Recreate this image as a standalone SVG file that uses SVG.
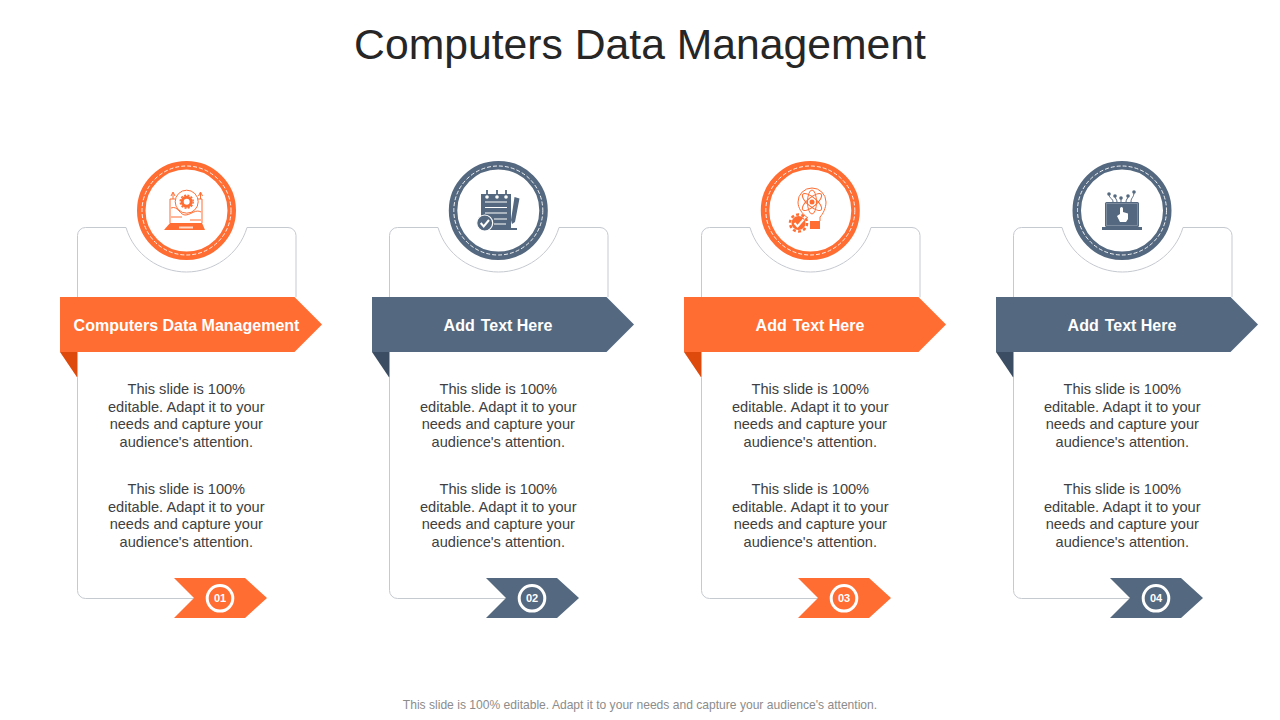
<svg xmlns="http://www.w3.org/2000/svg" width="1280" height="720" viewBox="0 0 1280 720">
<style>
text{font-family:"Liberation Sans",Arial,sans-serif}
.title{font-size:42.7px;fill:#262626;text-anchor:middle}
.foot{font-size:12.08px;fill:#8c8c8c;text-anchor:middle}
.body{font-size:14.6px;fill:#404040;text-anchor:middle}
.head{font-size:16px;font-weight:bold;fill:#fff;text-anchor:middle}
.num{font-size:11px;font-weight:bold;fill:#fff;text-anchor:middle}
.card{fill:none;stroke:#c5c9d0;stroke-width:1}
.o{fill:#ff6d33}.od{fill:#dd4a0c}.b{fill:#54687f}.bd{fill:#3b4d63}
.ros{stroke:#ff6d33}.bls{stroke:#54687f}
.ring{fill:#fff;stroke-width:8.500}
.dash{fill:none;stroke:#fff;stroke-width:0.900;stroke-dasharray:4 2}
.numring{fill:none;stroke:#fff;stroke-width:3}
.il{fill:none;stroke-width:1}
</style>
<defs>
<g id="frame">
<path class="card" d="M77.500 297V235.500a8 8 0 0 1 8-8H126C134 255 160 272 186.500 272S239 255 247 227.500H288a8 8 0 0 1 8 8V297"/>
<path class="card" d="M77.500 378V590.500a8 8 0 0 0 8 8H194"/>
</g>
<g id="copy" class="body">
<text x="186.300" y="394">This slide is 100%</text>
<text x="186.300" y="412">editable. Adapt it to your</text>
<text x="186.300" y="429">needs and capture your</text>
<text x="186.300" y="447">audience's attention.</text>
<text x="186.300" y="494">This slide is 100%</text>
<text x="186.300" y="512">editable. Adapt it to your</text>
<text x="186.300" y="529">needs and capture your</text>
<text x="186.300" y="547">audience's attention.</text>
</g>
<path id="rib" d="M60 297H294.500L322 324.500L294.500 352H60Z"/>
<path id="fold" d="M60 352H77.500V378Z"/>
<path id="tag" d="M174 578H245L267 598L245 618H174L194 598Z"/>
</defs>

<text class="title" x="640" y="58.500">Computers Data Management</text>

<g id="connectors"></g>

<g id="node-1">
<use href="#frame"/><use href="#rib" class="o"/><use href="#fold" class="od"/>
<text class="head" x="186.500" y="330.500">Computers Data Management</text>
<use href="#copy"/>
<circle class="ring ros" cx="186.500" cy="210.500" r="45.250"/>
<circle class="dash" cx="186.500" cy="210.500" r="44.500"/>
<g class="il ros">
<path d="M170 223V199H175M198 199H202V223"/>
<path d="M171 208C178 205 180 216 186 215S196 209 201 212M171 217H182M190 220H201"/>
<path d="M173 199V193M171 196L173 192L175 196M200.500 199V193M198.500 196L200.500 192L202.500 196"/>
<circle cx="186.700" cy="201.700" r="11.500"/>
</g>
<circle cx="186.700" cy="201.700" r="4.500" fill="none" stroke="#ff6d33" stroke-width="3"/>
<circle cx="186.700" cy="201.700" r="6.500" fill="none" stroke="#ff6d33" stroke-width="1.500" stroke-dasharray="2 1.400"/>
<path class="o" d="M170 223H202L205 230H164Z"/>
<rect x="179" y="226.500" width="14" height="2" fill="#ffd9c9"/>
<use href="#tag" class="o"/>
<circle class="numring" cx="220" cy="598.300" r="12.800"/>
<text class="num" x="220" y="602">01</text>
</g>

<g id="node-2">
<use href="#frame" x="312"/><use href="#rib" x="312" class="b"/><use href="#fold" x="312" class="bd"/>
<text class="head" x="498" y="330.500">Add <tspan dx="1.500">Text Here</tspan></text>
<use href="#copy" x="312"/>
<circle class="ring bls" cx="498.300" cy="210.500" r="45.250"/>
<circle class="dash" cx="498.300" cy="210.500" r="44.500"/>
<rect class="b" x="481" y="194" width="30" height="36"/>
<path d="M485 202H507M485 207.500H507M485 213H507M494 219H507M494 224H506" stroke="#fff" stroke-width="1.200"/>
<path d="M487 190V197M497 190V197M506 190V197" stroke="#54687f" stroke-width="1.800"/>
<circle cx="487" cy="197" r="1.800" fill="#fff"/><circle cx="497" cy="197" r="1.800" fill="#fff"/><circle cx="506" cy="197" r="1.800" fill="#fff"/>
<path class="b" d="M514.500 197L519.500 198.500L515 222L512 224L511 220ZM511 228H517V230H511Z"/>
<circle cx="484.700" cy="223" r="8" fill="#54687f" stroke="#fff" stroke-width="1.200"/>
<path d="M480.700 223L483.700 226.500L489 220" fill="none" stroke="#fff" stroke-width="2"/>
<use href="#tag" x="312" class="b"/>
<circle class="numring" cx="532" cy="598.300" r="12.800"/>
<text class="num" x="532" y="602">02</text>
</g>

<g id="node-3">
<use href="#frame" x="624"/><use href="#rib" x="624" class="o"/><use href="#fold" x="624" class="od"/>
<text class="head" x="810" y="330.500">Add <tspan dx="1.500">Text Here</tspan></text>
<use href="#copy" x="624"/>
<circle class="ring ros" cx="810.300" cy="210.500" r="45.250"/>
<circle class="dash" cx="810.300" cy="210.500" r="44.500"/>
<g class="il ros" stroke-width="1.500">
<path d="M808 218C802 214 798 208 798 202A14 14 0 0 1 826 202C826 208 823 214 820 217L820 221"/>
<ellipse cx="812" cy="202" rx="12" ry="4.500" transform="rotate(40 812 202)"/>
<ellipse cx="812" cy="202" rx="12" ry="4.500" transform="rotate(-40 812 202)"/>
<ellipse cx="812" cy="202" rx="4.500" ry="12"/>
</g>
<circle class="o" cx="812" cy="202" r="2.500"/>
<path class="o" d="M810 221H820V229H810Z"/>
<circle cx="798.500" cy="223" r="7" class="o"/>
<circle cx="798.500" cy="223" r="8.500" fill="none" stroke="#ff6d33" stroke-width="2.500" stroke-dasharray="3 2.340"/>
<path d="M794.500 223L797.500 226.500L803.500 219.500" fill="none" stroke="#fff" stroke-width="2"/>
<use href="#tag" x="624" class="o"/>
<circle class="numring" cx="844" cy="598.300" r="12.800"/>
<text class="num" x="844" y="602">03</text>
</g>

<g id="node-4">
<use href="#frame" x="936"/><use href="#rib" x="936" class="b"/><use href="#fold" x="936" class="bd"/>
<text class="head" x="1122" y="330.500">Add <tspan dx="1.500">Text Here</tspan></text>
<use href="#copy" x="936"/>
<circle class="ring bls" cx="1122" cy="210.500" r="45.250"/>
<circle class="dash" cx="1122" cy="210.500" r="44.500"/>
<rect class="b" x="1105" y="202" width="34" height="25" rx="1.500"/>
<rect x="1106.500" y="203.500" width="31" height="22" fill="none" stroke="#8795a6" stroke-width="0.800"/>
<path class="b" d="M1102 227H1142V230H1102Z"/>
<path d="M1120 214V208.500A1.500 1.500 0 0 1 1123 208.500V212L1128 213.500V219L1126 222H1120L1117 216Z" fill="#fff"/>
<g class="il bls">
<path d="M1109 194C1109 199 1113 198 1113 202M1115 196C1115 199 1117 199 1117 202M1121 198V202M1128 196C1128 199 1126 199 1126 202M1134 192C1134 198 1131 197 1131 202"/>
</g>
<g class="b"><circle cx="1109" cy="194" r="1.800"/><circle cx="1115" cy="196" r="1.800"/><circle cx="1121" cy="198" r="1.800"/><circle cx="1128" cy="196" r="1.800"/><circle cx="1134" cy="192" r="1.800"/></g>
<use href="#tag" x="936" class="b"/>
<circle class="numring" cx="1156" cy="598.300" r="12.800"/>
<text class="num" x="1156" y="602">04</text>
</g>

<text class="foot" x="640" y="709">This slide is 100% editable. Adapt it to your needs and capture your audience's attention.</text>
</svg>
